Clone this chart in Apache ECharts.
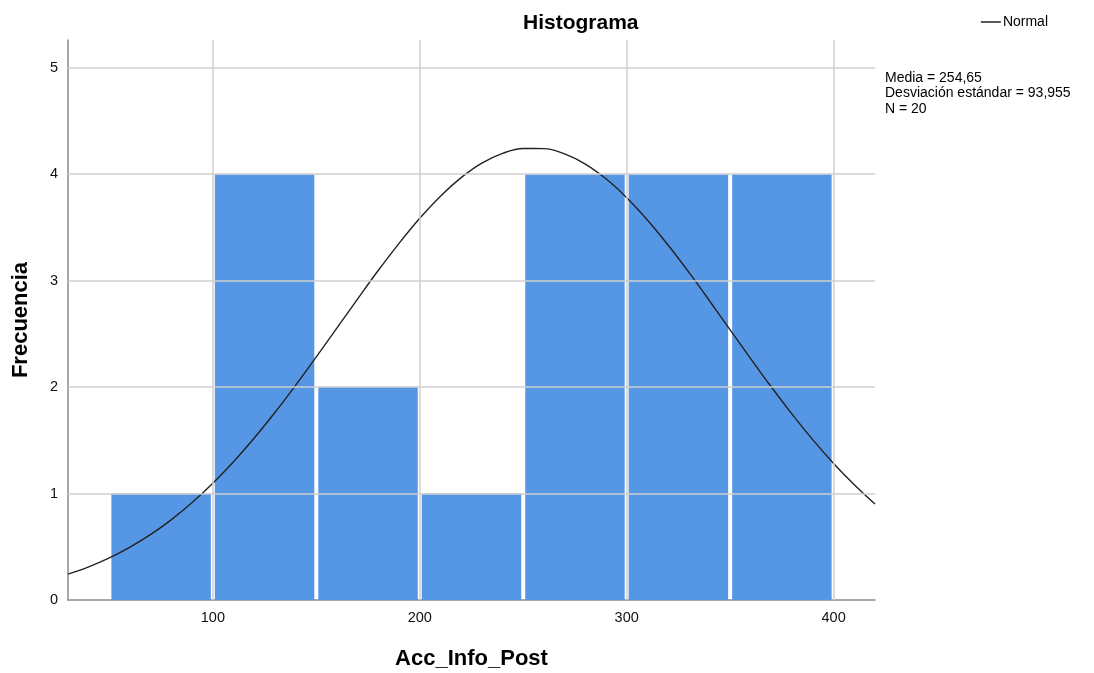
<!DOCTYPE html>
<html>
<head>
<meta charset="utf-8">
<script src="https://cdn.jsdelivr.net/npm/echarts@6/dist/echarts.min.js"></script>
<style>html,body{margin:0;padding:0;background:#fff}#c{width:1094px;height:673px}</style>
</head>
<body>
<div id="c"></div>
<script>
const binEdges = [50, 100, 150, 200, 250, 300, 350, 400];
const freqs = [1, 4, 2, 1, 4, 4, 4];
const xTicks = [100, 200, 300, 400];
const yTicks = [1, 2, 3, 4, 5];
const curveX = [30, 40, 50, 60, 70, 80, 90, 100, 110, 120, 130, 140, 150, 160, 170, 180, 190, 200, 210, 220, 230, 240, 250, 260, 270, 280, 290, 300, 310, 320, 330, 340, 350, 360, 370, 380, 390, 400, 410, 420];
const curveY = [0.243, 0.312, 0.396, 0.497, 0.616, 0.755, 0.915, 1.096, 1.298, 1.521, 1.761, 2.017, 2.284, 2.556, 2.829, 3.097, 3.350, 3.585, 3.793, 3.967, 4.103, 4.195, 4.241, 4.240, 4.190, 4.095, 3.956, 3.779, 3.570, 3.334, 3.079, 2.811, 2.537, 2.265, 1.998, 1.744, 1.504, 1.283, 1.083, 0.902];
const statsLines = ['Media = 254,65', 'Desviación estándar = 93,955', 'N = 20'];

const FONT = '"Liberation Sans", Arial, sans-serif';
const chart = echarts.init(document.getElementById('c'), null, {renderer: 'canvas'});

const barData = freqs.map((f, i) => [binEdges[i], binEdges[i + 1], f]);
const curveData = curveX.map((x, i) => [x, curveY[i]]);
const gridLineStyle = {color: '#cfcfcf', width: 1.5, type: 'solid'};

const option = {
  animation: false,
  backgroundColor: '#fff',
  title: {
    text: 'Histograma', left: 518, top: 8,
    textStyle: {fontFamily: FONT, fontSize: 21, fontWeight: 'bold', color: '#000'}
  },
  grid: {left: 68, right: 219, top: 40, bottom: 73, containLabel: false, outerBoundsMode: 'none'},
  xAxis: {
    type: 'value', min: 30, max: 420,
    name: 'Acc_Info_Post', nameLocation: 'middle', nameGap: 48,
    nameTextStyle: {fontFamily: FONT, fontSize: 22, fontWeight: 'bold', color: '#000'},
    axisLine: {show: true, lineStyle: {color: '#8a8a8a', width: 1.5}},
    axisTick: {show: false},
    splitLine: {show: false},
    axisLabel: {customValues: xTicks, fontFamily: FONT, fontSize: 14.5, color: '#111', margin: 10}
  },
  yAxis: {
    type: 'value', min: 0, max: 5.26, interval: 1,
    name: 'Frecuencia', nameLocation: 'middle', nameGap: 36, nameRotate: 90,
    nameTextStyle: {fontFamily: FONT, fontSize: 22, fontWeight: 'bold', color: '#000'},
    axisLine: {show: true, lineStyle: {color: '#8a8a8a', width: 1.5}},
    axisTick: {show: false},
    splitLine: {show: false},
    axisLabel: {
      fontFamily: FONT, fontSize: 14.5, color: '#111', margin: 10,
      formatter: v => (Math.abs(v - Math.round(v)) < 1e-9 ? String(Math.round(v)) : '')
    }
  },
  legend: {
    show: true, right: 41, top: 10, itemWidth: 20, itemHeight: 1.5, itemGap: 2,
    icon: 'rect',
    textStyle: {fontFamily: FONT, fontSize: 14, color: '#000', padding: [0, 0, 0, -3]},
    data: [{name: 'Normal', itemStyle: {color: '#222'}}]
  },
  graphic: [{
    type: 'text', left: 885, top: 70,
    style: {text: statsLines.join('\n'), fontFamily: FONT, fontSize: 14, lineHeight: 15.5, fill: '#000'}
  }],
  series: [
    {
      type: 'line', data: [], z: 1, silent: true,
      markLine: {
        silent: true, symbol: 'none', label: {show: false},
        lineStyle: gridLineStyle, animation: false,
        data: xTicks.map(v => ({xAxis: v})).concat(yTicks.map(v => ({yAxis: v})))
      }
    },
    {
      type: 'custom', z: 2, data: barData,
      renderItem: function (params, api) {
        const p0 = api.coord([api.value(0), api.value(2)]);
        const p1 = api.coord([api.value(1), 0]);
        const inset = 2;
        return {
          type: 'rect',
          shape: {x: p0[0] + inset, y: p0[1], width: p1[0] - p0[0] - 2 * inset, height: p1[1] - p0[1]},
          style: {fill: '#5596e5'}
        };
      }
    },
    {
      name: 'Normal', type: 'line', z: 3, data: curveData, smooth: 0.4,
      showSymbol: false, symbol: 'none',
      lineStyle: {color: '#222', width: 1.4}, itemStyle: {color: '#222'}
    }
  ]
};
chart.setOption(option);
</script>
</body>
</html>
